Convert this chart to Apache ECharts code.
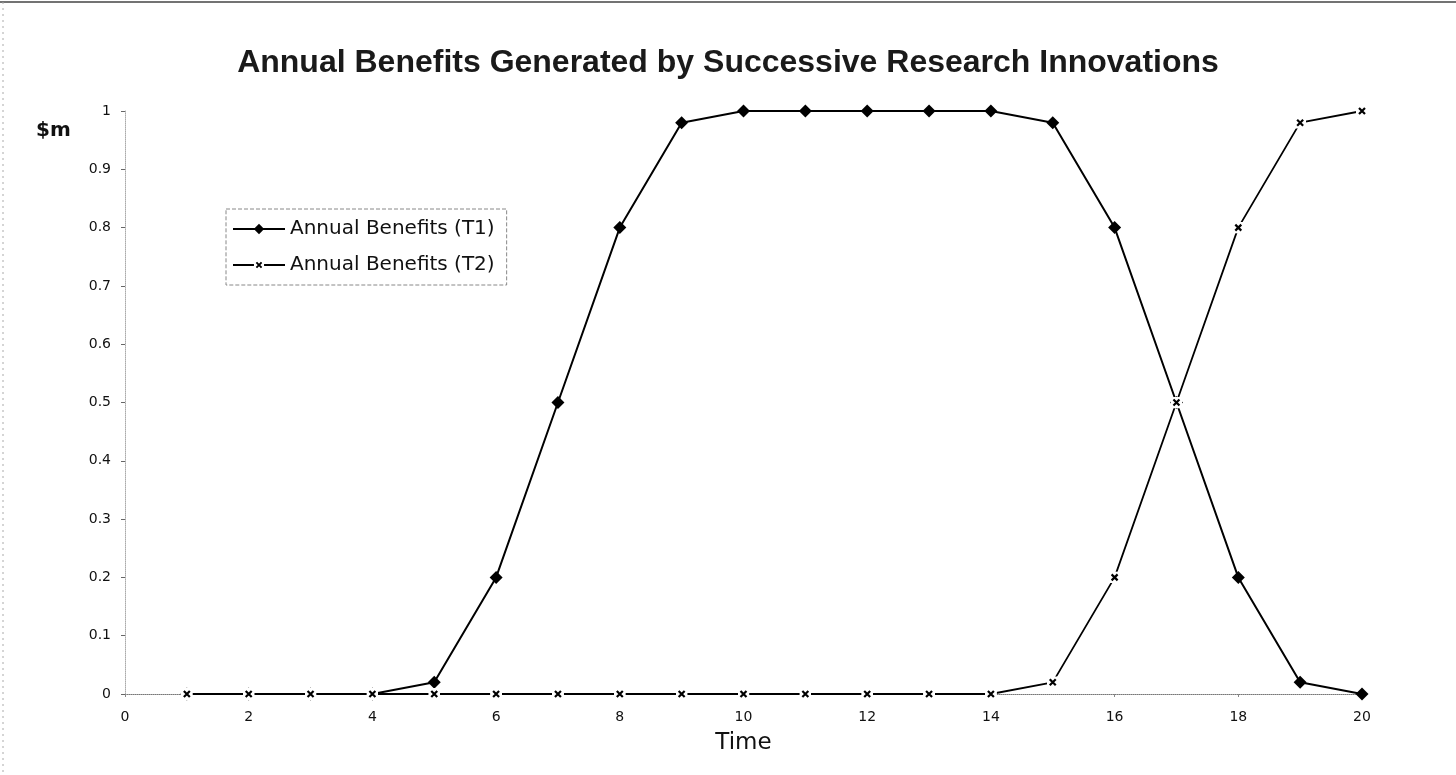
<!DOCTYPE html>
<html>
<head>
<meta charset="utf-8">
<script src="https://cdn.jsdelivr.net/npm/echarts@6/dist/echarts.min.js"></script>
<style>
html,body{margin:0;padding:0;background:#fff;}
#chart{width:1456px;height:775px;}
</style>
</head>
<body>
<div id="chart"></div>
<script>
var times = [1,2,3,4,5,6,7,8,9,10,11,12,13,14,15,16,17,18,19,20];
var benefitsT1 = [0,0,0,0,0.02,0.2,0.5,0.8,0.98,1,1,1,1,1,0.98,0.8,0.5,0.2,0.02,0];
var benefitsT2 = [0,0,0,0,0,0,0,0,0,0,0,0,0,0,0.02,0.2,0.5,0.8,0.98,1];
var seriesNames = ['Annual Benefits (T1)', 'Annual Benefits (T2)'];
var titleText = 'Annual Benefits Generated by Successive Research Innovations';
var yAxisTitle = '$m';
var xAxisTitle = 'Time';

function pairs(vals){ return times.map(function(t,i){ return [t, vals[i]]; }); }

var xMarkSvg = '<svg xmlns="http://www.w3.org/2000/svg" width="12" height="12" viewBox="0 0 12 12">' +
  '<rect x="0" y="0" width="12" height="12" fill="#fff"/>' +
  '<path d="M3,3 L9,9 M9,3 L3,9" stroke="#000" stroke-width="2.2"/></svg>';
var xMarkSymbol = 'image://data:image/svg+xml;charset=utf-8,' + encodeURIComponent(xMarkSvg);

var font = 'Liberation Sans, Arial, sans-serif';
var wfont = 'DejaVu Sans, sans-serif';
var chart = echarts.init(document.getElementById('chart'));
chart.setOption({
  backgroundColor: '#fff',
  animation: false,
  title: {
    text: titleText,
    left: 'center', top: 42,
    textStyle: {fontFamily: font, fontSize: 32, fontWeight: 'bold', color: '#1a1a1a'}
  },
  legend: {
    orient: 'vertical',
    left: 226, top: 209,
    itemWidth: 52, itemHeight: 13, itemGap: 16,
    padding: [10, 12, 10, 6],
    borderColor: '#888', borderWidth: 1, borderType: 'dashed',
    textStyle: {fontFamily: wfont, fontSize: 20, color: '#111'},
    data: seriesNames
  },
  grid: {left: 125, right: 94, top: 111, bottom: 81},
  xAxis: {
    type: 'value', min: 0, max: 20, interval: 2,
    name: xAxisTitle, nameLocation: 'middle', nameGap: 38,
    nameTextStyle: {fontFamily: wfont, fontSize: 23, color: '#111'},
    axisLine: {lineStyle: {color: '#777', type: 'dotted', width: 1}},
    axisTick: {show: true, inside: false, length: 3, lineStyle: {color: '#888'}},
    axisLabel: {fontFamily: wfont, fontSize: 14, color: '#111', margin: 16},
    splitLine: {show: false}
  },
  yAxis: {
    type: 'value', min: 0, max: 1, interval: 0.1,
    axisLine: {show: true, lineStyle: {color: '#aaa', type: 'dotted', width: 1}},
    axisTick: {show: true, length: 4, lineStyle: {color: '#666'}},
    axisLabel: {fontFamily: wfont, fontSize: 14, color: '#111', margin: 14},
    splitLine: {show: false}
  },
  graphic: [
    {
      type: 'text', left: 36, top: 121,
      style: {text: yAxisTitle, fontFamily: wfont, fontSize: 20, fontWeight: 'bold', fill: '#111'}
    },
    {
      type: 'line', shape: {x1: 0, y1: 2, x2: 1456, y2: 2},
      style: {stroke: '#444', lineWidth: 1.5}
    },
    {
      type: 'line', shape: {x1: 3, y1: 2, x2: 3, y2: 775},
      style: {stroke: '#aaa', lineWidth: 1, lineDash: [2, 4]}
    }
  ],
  series: [
    {
      name: seriesNames[0], type: 'line', data: pairs(benefitsT1),
      symbol: 'diamond', symbolSize: 13,
      lineStyle: {color: '#000', width: 2},
      itemStyle: {color: '#000'},
      z: 2
    },
    {
      name: seriesNames[1], type: 'line', data: pairs(benefitsT2),
      symbol: xMarkSymbol,
      symbolSize: 12,
      lineStyle: {color: '#000', width: 1.8},
      itemStyle: {color: '#000'},
      z: 3
    }
  ]
});
</script>
</body>
</html>
